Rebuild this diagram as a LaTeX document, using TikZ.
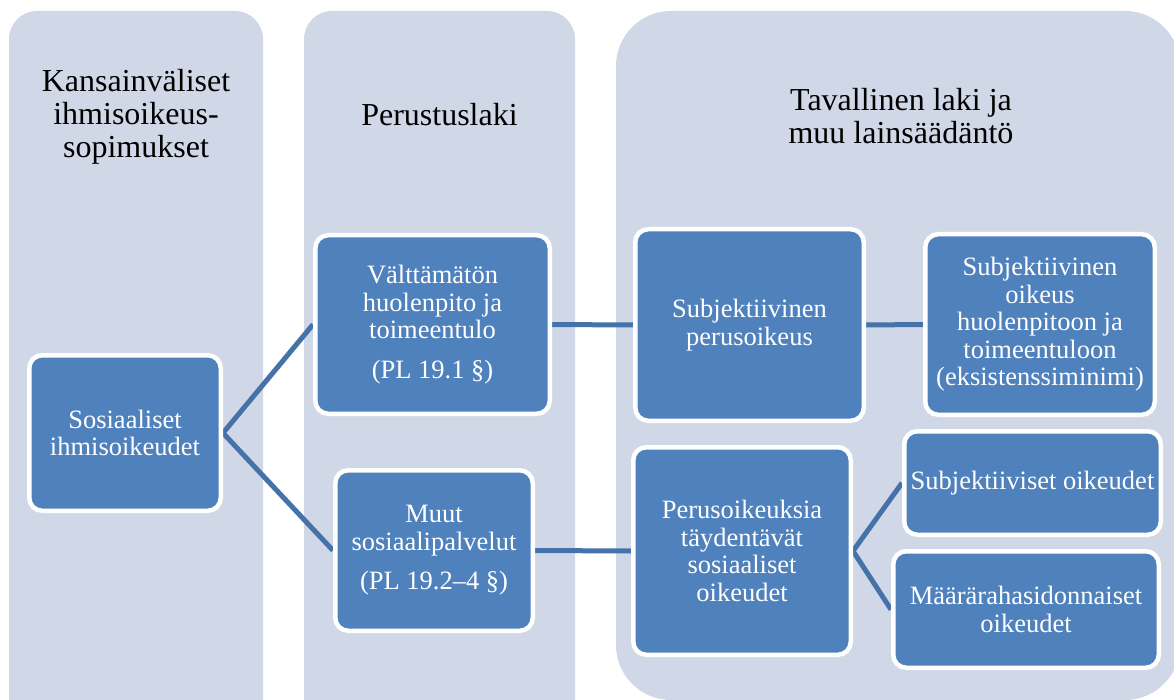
\documentclass[tikz,border=0pt]{standalone}
\usepackage{fontspec}
\setmainfont{Liberation Serif}
\usetikzlibrary{backgrounds}
\definecolor{panelc}{HTML}{D0D8E8}
\definecolor{boxc}{HTML}{4F81BD}
\definecolor{linec}{HTML}{4672AA}
\begin{document}
\begin{tikzpicture}[x=1pt,y=-1pt,
  panel/.style={fill=panelc},
  box/.style={rectangle, rounded corners=13pt, fill=boxc, draw=white, line width=4.5pt,
    text=white, align=center, inner sep=0pt, font=\fontsize{26.5}{27.5}\selectfont},
  title/.style={align=center, text=black, inner sep=0pt, font=\fontsize{32}{33}\selectfont},
  conn/.style={draw=linec, line width=5pt, line join=round}]
\useasboundingbox (0,0) rectangle (1174,700);
\begin{scope}[on background layer]
  \clip (0,0) rectangle (1174,700);
  \fill[panel, rounded corners=28pt] (9,11) rectangle (263,740);
  \fill[panel, rounded corners=28pt] (304,11) rectangle (575,740);
  \fill[panel, rounded corners=55pt] (616,11) rectangle (1180,700);
\end{scope}

\node[title] (t1) at (136,117) {Kansainväliset\\ihmisoikeus-\\sopimukset};
\node[title] (t2) at (439.5,115) {Perustuslaki};
\node[title] (t3) at (901,116) {Tavallinen laki ja\\muu lainsäädäntö};

\node[box, minimum width=191.5pt, minimum height=155.5pt] (S) at (125,433) {Sosiaaliset\\ihmisoikeudet};
\node[box, minimum width=234.5pt, minimum height=178.5pt] (V) at (432.5,324.5) {Välttämätön\\huolenpito ja\\toimeentulo\\[12pt](PL 19.1 §)};
\node[box, minimum width=197.5pt, minimum height=160.5pt] (M) at (434,550.5) {Muut\\sosiaalipalvelut\\[12pt](PL 19.2–4 §)};
\node[box, minimum width=228.5pt, minimum height=191.5pt] (SP) at (749.5,325) {Subjektiivinen\\perusoikeus};
\node[box, minimum width=229.5pt, minimum height=180.5pt] (SO) at (1040,324.5) {Subjektiivinen\\oikeus\\huolenpitoon ja\\toimeentuloon\\(eksistenssiminimi)};
\node[box, minimum width=217.5pt, minimum height=207.5pt] (PT) at (742,551) {Perusoikeuksia\\täydentävät\\sosiaaliset\\oikeudet};
\node[box, minimum width=256.5pt, minimum height=103.5pt] (SS) at (1032.5,483) {Subjektiiviset oikeudet};
\node[box, minimum width=265.5pt, minimum height=116.5pt] (MR) at (1026,609.5) {Määrärahasidonnaiset\\oikeudet};

\begin{scope}[on background layer]
  \draw[conn] (V.west) -- (S.east) -- (M.west);
  \draw[conn] (V.east) -- (SP.west);
  \draw[conn] (M.east) -- (PT.west);
  \draw[conn] (SP.east) -- (SO.west);
  \draw[conn] (SS.west) -- (PT.east) -- (MR.west);
\end{scope}
\end{tikzpicture}
\end{document}
